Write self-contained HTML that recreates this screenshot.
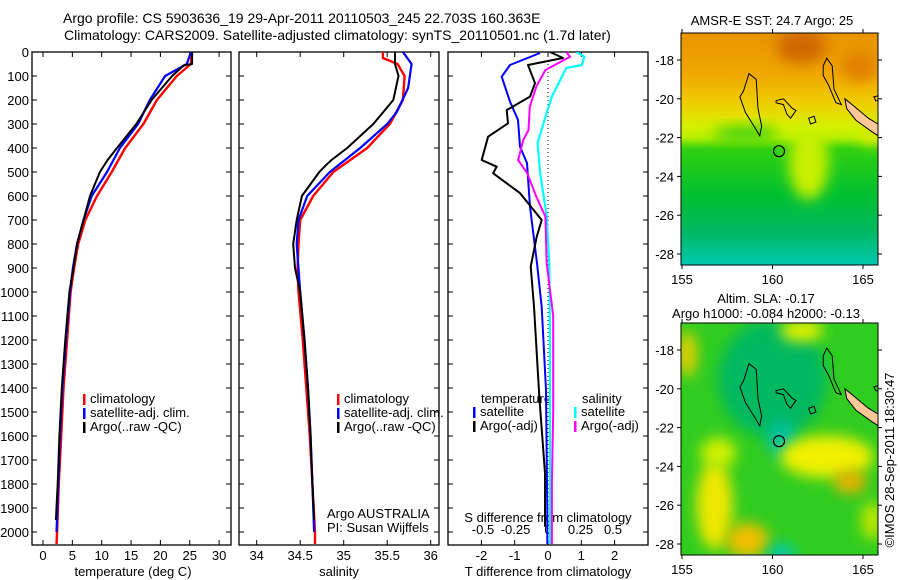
<!DOCTYPE html>
<html><head><meta charset="utf-8"><style>
html,body{margin:0;padding:0;background:#fff;}
svg{display:block;font-family:"Liberation Sans",sans-serif;}
</style></head><body>
<svg id="fig" width="900" height="580" viewBox="0 0 900 580">
<defs>
<filter id="blur" x="-50%" y="-50%" width="200%" height="200%"><feGaussianBlur stdDeviation="7"/></filter>
<clipPath id="clipTop"><rect x="681" y="33" width="197" height="232"/></clipPath>
<clipPath id="clipBot"><rect x="681" y="323" width="197" height="232"/></clipPath>
<clipPath id="clipP1"><rect x="32" y="52" width="199" height="493"/></clipPath>
<clipPath id="clipP2"><rect x="239" y="52" width="200" height="493"/></clipPath>
<clipPath id="clipP3"><rect x="448" y="52" width="200" height="493"/></clipPath>
<linearGradient id="gTop" x1="0" y1="0" x2="0" y2="1">
<stop offset="0" stop-color="#e89400"/><stop offset="0.18" stop-color="#f0a800"/><stop offset="0.3" stop-color="#f0cc00"/><stop offset="0.4" stop-color="#d8f000"/><stop offset="0.45" stop-color="#b8f000"/><stop offset="0.5" stop-color="#30d010"/><stop offset="0.7" stop-color="#00c030"/><stop offset="0.85" stop-color="#00b860"/><stop offset="1" stop-color="#00c8b0"/>
</linearGradient>
</defs>
<g id="titles" font-size="14" fill="#000">
<text x="63" y="23">Argo profile: CS 5903636_19 29-Apr-2011 20110503_245 22.703S 160.363E</text>
<text x="64" y="40">Climatology: CARS2009. Satellite-adjusted climatology: synTS_20110501.nc (1.7d later)</text>
</g>
<g id="axes"></g>
<g id="series"></g>
<g id="maps"></g>
</svg>
<script>
// ---- data ----
const depthTicks=[0,100,200,300,400,500,600,700,800,900,1000,1100,1200,1300,1400,1500,1600,1700,1800,1900,2000];
const tempTicks=[0,5,10,15,20,25,30];
const salTicks=[34,34.5,35,35.5,36];
const tdiffTicks=[-2,-1,0,1,2];
const sdiffTicks=[-0.5,-0.25,0,0.25,0.5];
const sdiffLabels=["-0.5","-0.25","0","0.25","0.5"];

const tClimDepth=[0,50,100,200,300,400,500,600,700,800,900,1000,1200,1400,1600,1800,2000,2050];
const tClim=[25.3,25.2,22.8,19.4,17.1,14.0,11.7,9.2,7.2,6.0,5.3,4.7,4.1,3.5,3.1,2.7,2.4,2.3];
const tSatDepth=[0,50,100,200,300,400,500,600,700,800,900,1000,1200,1400,1600,1800,2000];
const tSat=[25.2,24.5,20.8,18.2,16.2,13.1,10.9,8.3,6.9,5.8,5.1,4.6,3.9,3.3,2.9,2.6,2.3];
const tArgoDepth=[0,50,55,100,200,300,400,450,500,600,700,800,900,1000,1200,1400,1600,1800,1950];
const tArgo=[25.4,25.4,24.0,22.0,18.5,15.9,12.6,11.0,9.7,8.0,6.9,5.8,5.2,4.5,3.8,3.2,2.8,2.5,2.2];

const sClimDepth=[0,25,50,100,200,300,400,500,600,700,800,900,1000,1200,1400,1600,1800,2000,2050];
const sClim=[35.45,35.45,35.62,35.70,35.68,35.53,35.27,34.88,34.65,34.50,34.48,34.47,34.48,34.53,34.57,34.61,34.64,34.67,34.67];
const sSatDepth=[0,50,150,250,300,400,500,600,700,800,1000,1200,1400,1600,1800,2000];
const sSat=[35.68,35.78,35.74,35.61,35.50,35.19,34.84,34.58,34.48,34.46,34.50,34.55,34.59,34.62,34.64,34.66];
const sArgoDepth=[0,50,100,200,300,400,450,470,500,600,700,800,900,1000,1200,1400,1600,1800,1950];
const sArgo=[35.59,35.59,35.63,35.57,35.34,35.04,34.86,34.80,34.72,34.52,34.46,34.42,34.44,34.50,34.55,34.59,34.62,34.64,34.66];

const dTSatDepth=[4,54,103,207,283,394,463,645,880,1062,1408,1922,2050];
const dTSat=[-0.24,-1.14,-1.39,-1.14,-0.90,-0.84,-0.63,-0.54,-0.33,-0.19,-0.06,-0.02,-0.02];
const dTArgoDepth=[0,25,54,130,186,242,297,353,450,478,505,588,700,770,894,1061,1436,1755,1978];
const dTArgo=[0.06,0.45,-0.60,-0.39,-0.54,-1.24,-1.20,-1.80,-1.99,-1.54,-1.65,-0.84,-0.19,-0.34,-0.52,-0.42,-0.26,-0.09,-0.09];
const dSSatDepth=[0,20,54,67,186,270,380,505,686,880,1200,1755,2050];
const dSSat=[0.22,0.28,0.26,0.14,0.03,-0.02,-0.08,-0.06,-0.01,0.01,0.015,0.015,0.015];
const dSArgoDepth=[0,20,75,144,228,325,367,450,505,603,686,880,1100,1500,1800,2050];
const dSArgo=[0.14,0.17,-0.02,-0.09,-0.14,-0.15,-0.19,-0.23,-0.16,-0.09,-0.02,-0.01,0.04,0.04,0.03,0.03];

// ---- axis functions ----
const Y0=52, YB=545;
const yD=d=>52+d*0.24;
const xT=t=>43+t*5.87;
const xS=s=>256.7+(s-34)*87;
const xDT=t=>548+t*33.3;
const xDS=s=>548+s*130;

const NS="http://www.w3.org/2000/svg";
function el(tag,attrs,parent){const e=document.createElementNS(NS,tag);for(const k in attrs)e.setAttribute(k,attrs[k]);parent.appendChild(e);return e;}
const axes=document.getElementById('axes');
const series=document.getElementById('series');
const maps=document.getElementById('maps');

function stepLine(xs,ds,xf,color,w,clip,name){
  let p="";
  for(let i=0;i<xs.length;i++){const x=xf(xs[i]).toFixed(1),y=yD(ds[i]).toFixed(1);p+=(i?"L":"M")+x+","+y;}
  const e=el('path',{d:p,fill:'none',stroke:color,'stroke-width':w,'stroke-linejoin':'round','clip-path':clip},series);
  
  
}

// panels
const panels=[{x:32,w:199,name:'temperature-panel'},{x:239,w:200,name:'salinity-panel'},{x:448,w:200,name:'difference-panel'}];
panels.forEach(p=>{
  const r=el('rect',{x:p.x,y:Y0,width:p.w,height:YB-Y0,fill:'none',stroke:'#000','stroke-width':1.3},axes);
  
  
  depthTicks.forEach(d=>{
    el('line',{x1:p.x,x2:p.x+5,y1:yD(d),y2:yD(d),stroke:'#000'},axes);
    el('line',{x1:p.x+p.w-5,x2:p.x+p.w,y1:yD(d),y2:yD(d),stroke:'#000'},axes);
  });
});
depthTicks.forEach(d=>{
  const t=el('text',{x:29,y:yD(d)+5,'text-anchor':'end','font-size':13},axes);
  t.textContent=d;
  
  
});
function xTicks(vals,labels,xf){
  vals.forEach((v,i)=>{
    const x=xf(v);
    el('line',{x1:x,x2:x,y1:YB,y2:YB-5,stroke:'#000'},axes);
    el('line',{x1:x,x2:x,y1:Y0,y2:Y0+5,stroke:'#000'},axes);
    const t=el('text',{x:x,y:560,'text-anchor':'middle','font-size':13},axes);
    t.textContent=labels[i];
    
    
  });
}
xTicks(tempTicks,tempTicks.map(String),xT);
xTicks(salTicks,salTicks.map(String),xS);
xTicks(tdiffTicks,tdiffTicks.map(String),xDT);
sdiffTicks.forEach((v,i)=>{
  const t=el('text',{x:xDS(v),y:534,'text-anchor':'middle','font-size':13},axes);
  t.textContent=sdiffLabels[i];
  
  
});
function label(x,y,txt,name,anchor,size){
  const t=el('text',{x:x,y:y,'text-anchor':anchor||'middle','font-size':size||13},axes);
  t.textContent=txt;
  
  
  return t;
}
label(133,576,'temperature (deg C)','temperature-axis-title');
label(339,576,'salinity','salinity-axis-title');
label(548,576,'T difference from climatology','t-diff-axis-title');
label(548,522,'S difference from climatology','s-diff-axis-title');
label(327,518,'Argo AUSTRALIA','argo-australia-label','start');
label(327,532,'PI: Susan Wijffels','pi-label','start');

// zero dotted line
const zl=el('line',{x1:548,x2:548,y1:Y0,y2:YB,stroke:'#000','stroke-dasharray':'1,3'},axes);



// series
stepLine(tClim,tClimDepth,xT,'#ff0000',2.4,'url(#clipP1)','temp-climatology-line');
stepLine(tSat,tSatDepth,xT,'#0000ff',2.2,'url(#clipP1)','temp-satellite-line');
stepLine(tArgo,tArgoDepth,xT,'#000000',2,'url(#clipP1)','temp-argo-line');
stepLine(sClim,sClimDepth,xS,'#ff0000',2.4,'url(#clipP2)','sal-climatology-line');
stepLine(sSat,sSatDepth,xS,'#0000ff',2.2,'url(#clipP2)','sal-satellite-line');
stepLine(sArgo,sArgoDepth,xS,'#000000',2,'url(#clipP2)','sal-argo-line');
stepLine(dTSat,dTSatDepth,xDT,'#0000ff',2,'url(#clipP3)','t-diff-satellite-line');
stepLine(dTArgo,dTArgoDepth,xDT,'#000000',2,'url(#clipP3)','t-diff-argo-line');
stepLine(dSSat,dSSatDepth,xDS,'#00ffff',2.2,'url(#clipP3)','s-diff-satellite-line');
stepLine(dSArgo,dSArgoDepth,xDS,'#ff00ff',2,'url(#clipP3)','s-diff-argo-line');

// legends
function legendEntry(x,y,color,txt,name){
  const g=el('g',{},axes);
  
  
  el('rect',{x:x,y:y-9,width:2.5,height:11,fill:color},g);
  const t=el('text',{x:x+7,y:y,'font-size':13},g);t.textContent=txt;
}
[[83,'climatology','#ff0000'],[83,'satellite-adj. clim.','#0000ff'],[83,'Argo(..raw -QC)','#000000']].forEach((e,i)=>legendEntry(e[0],403+i*14,e[2],e[1],'legend-entry-temp-'+i));
[[337,'climatology','#ff0000'],[337,'satellite-adj. clim.','#0000ff'],[337,'Argo(..raw -QC)','#000000']].forEach((e,i)=>legendEntry(e[0],403+i*14,e[2],e[1],'legend-entry-sal-'+i));
label(481,403,'temperature','legend-title-temperature','start');
label(582,403,'salinity','legend-title-salinity','start');
legendEntry(473,416,'#0000ff','satellite','legend-t-satellite');
legendEntry(473,430,'#000000','Argo(-adj)','legend-t-argo');
legendEntry(574,416,'#00ffff','satellite','legend-s-satellite');
legendEntry(574,430,'#ff00ff','Argo(-adj)','legend-s-argo');

// ---- maps ----
const lonX=l=>682+(l-155)*18.1;
const latY=(la,off)=>60+off+(-18-la)*19.4;
function blob(g,lon,lat,rx,ry,color,off){el('ellipse',{cx:lonX(lon),cy:latY(lat,off),rx:rx*18.1,ry:ry*19.4,fill:color,filter:'url(#blur)'},g);}
function drawMap(off,clip,name,bg){
  const g=el('g',{'clip-path':clip},maps);
  
  
  if(bg==='sst'){
    el('rect',{x:681,y:33+off,width:197,height:232,fill:'url(#gTop)'},g);
    blob(g,161.6,-17.3,1.4,0.9,'#d06800',off);
    blob(g,164.8,-18.3,1.0,0.8,'#e08000',off);
    blob(g,162.0,-23.3,1.1,1.9,'#c8f000',off);
    blob(g,158.5,-21.8,1.8,0.4,'#40d010',off);
    blob(g,165.5,-21.8,0.7,0.6,'#d8e800',off);
  } else {
    el('rect',{x:681,y:33+off,width:197,height:232,fill:'#30cc20'},g);
    blob(g,160.0,-19.5,3.0,3.0,'#00b860',off);
    blob(g,160.5,-22.6,0.8,1.0,'#00c0a0',off);
    blob(g,155.3,-18.2,0.5,1.2,'#f0d000',off);
    blob(g,161.6,-17.0,1.2,0.6,'#e0f000',off);
    blob(g,156.8,-26.0,1.0,2.3,'#f0e800',off);
    blob(g,158.6,-27.8,1.2,0.9,'#f0c000',off);
    blob(g,163.0,-23.5,2.6,1.1,'#f0f000',off);
    blob(g,164.3,-24.8,0.9,0.6,'#f0b000',off);
    blob(g,157.0,-23.3,1.0,0.8,'#d0f000',off);
    blob(g,165.5,-26.8,0.6,1.0,'#c0e800',off);
    blob(g,160.5,-28.5,0.8,0.5,'#00c8b0',off);
  }
  const islands=[
    [[158.4,-19.6],[158.7,-18.7],[159.1,-19.0],[159.2,-20.5],[159.4,-21.4],[159.3,-21.9],[158.9,-21.3],[158.5,-20.7],[158.2,-19.9]],
    [[160.2,-20.1],[160.6,-20.0],[161.1,-20.5],[161.3,-20.6],[161.0,-21.0],[160.8,-20.8],[160.6,-20.3],[160.2,-20.2]],
    [[162.8,-18.3],[163.0,-17.9],[163.3,-18.3],[163.4,-19.5],[163.8,-20.3],[163.5,-20.2],[163.1,-19.3],[162.8,-18.8]],
    [[162.0,-21.0],[162.3,-20.9],[162.4,-21.2],[162.1,-21.3]],
    [[165.6,-19.9],[166,-19.8],[166,-20.1],[165.7,-20.1]]
  ];
  islands.forEach(pts=>{
    el('path',{d:'M'+pts.map(p=>lonX(p[0]).toFixed(1)+','+latY(p[1],off).toFixed(1)).join('L')+'Z',fill:'none',stroke:'#000','stroke-width':1},g);
  });
  const nc=[[164.0,-20.0],[164.4,-20.3],[165.3,-21.0],[166,-21.4],[166,-22.0],[165.5,-21.7],[164.6,-21.1],[164.1,-20.5]];
  el('path',{d:'M'+nc.map(p=>lonX(p[0]).toFixed(1)+','+latY(p[1],off).toFixed(1)).join('L')+'Z',fill:'#ffc896',stroke:'#000','stroke-width':1},g);
  const c=el('circle',{cx:lonX(160.36),cy:latY(-22.7,off),r:5.5,fill:'none',stroke:'#000','stroke-width':1.2},g);
  
  
  // frame and ticks
  el('rect',{x:681,y:33+off,width:197,height:232,fill:'none',stroke:'#000','stroke-width':1},maps);
  [155,160,165].forEach(l=>{
    el('line',{x1:lonX(l),x2:lonX(l),y1:265+off,y2:269+off,stroke:'#000'},maps);
    el('line',{x1:lonX(l),x2:lonX(l),y1:33+off,y2:29+off,stroke:'#000'},maps);
    const t=el('text',{x:lonX(l),y:284+off,'text-anchor':'middle','font-size':13},maps);t.textContent=l;
    
    
  });
  [-18,-20,-22,-24,-26,-28].forEach(la=>{
    const y=latY(la,off);
    el('line',{x1:677,x2:681,y1:y,y2:y,stroke:'#000'},maps);
    el('line',{x1:878,x2:882,y1:y,y2:y,stroke:'#000'},maps);
    const t=el('text',{x:674,y:y+5,'text-anchor':'end','font-size':13},maps);t.textContent=la;
    
    
  });
}
drawMap(0,'url(#clipTop)','sst-map','sst');
drawMap(290,'url(#clipBot)','sla-map','sla');
label(772,25,'AMSR-E SST: 24.7 Argo: 25','sst-map-title');
label(766,303,'Altim. SLA: -0.17','sla-map-title');
label(766,318,'Argo h1000: -0.084 h2000: -0.13','argo-height-title');
const cr=label(0,0,'©IMOS 28-Sep-2011 18:30:47','imos-credit');
cr.setAttribute('transform','translate(894,460) rotate(-90)');
</script>
</body></html>
